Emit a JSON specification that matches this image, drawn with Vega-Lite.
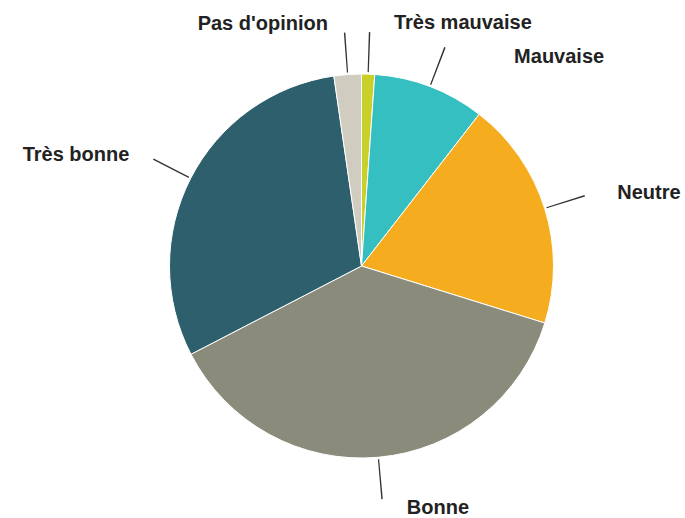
{
  "$schema": "https://vega.github.io/schema/vega-lite/v6.json",
  "width": 647,
  "height": 504,
  "autosize": {"type": "none"},
  "padding": {"left": 38, "top": 14, "right": 0, "bottom": 0},
  "background": "white",
  "view": {"stroke": null},
  "data": {
    "values": [
      {"cat": "Très mauvaise", "value": 1.1},
      {"cat": "Mauvaise", "value": 9.4},
      {"cat": "Neutre", "value": 19.3},
      {"cat": "Bonne", "value": 37.6},
      {"cat": "Très bonne", "value": 30.3},
      {"cat": "Pas d'opinion", "value": 2.3}
    ]
  },
  "transform": [
    {"calculate": "indexof([\"Très mauvaise\", \"Mauvaise\", \"Neutre\", \"Bonne\", \"Très bonne\", \"Pas d'opinion\"], datum.cat)", "as": "rank"},
    {"stack": "value", "groupby": [], "sort": [{"field": "rank", "order": "ascending"}], "as": ["s0", "s1"]},
    {"calculate": "(datum.s0 + datum.s1) / 2", "as": "mid"},
    {"calculate": "datum.mid - 0.05", "as": "lo"},
    {"calculate": "datum.mid + 0.05", "as": "hi"}
  ],
  "layer": [
    {
      "mark": {"type": "arc", "outerRadius": 192, "stroke": "#ffffff", "strokeWidth": 1},
      "encoding": {
        "theta": {"field": "s0", "type": "quantitative", "stack": null, "scale": {"domain": [0, 100]}},
        "theta2": {"field": "s1"},
        "color": {
          "field": "cat",
          "type": "nominal",
          "scale": {
            "domain": ["Très mauvaise", "Mauvaise", "Neutre", "Bonne", "Très bonne", "Pas d'opinion"],
            "range": ["#c9d02a", "#36bfc1", "#f6ac1f", "#8b8b7b", "#2e5f6d", "#d0ccc0"]
          },
          "legend": null
        }
      }
    },
    {
      "mark": {"type": "arc", "innerRadius": 194, "outerRadius": 234, "color": "#333333"},
      "encoding": {
        "theta": {"field": "lo", "type": "quantitative", "stack": null, "scale": {"domain": [0, 100]}},
        "theta2": {"field": "hi"}
      }
    },
    {
      "mark": {
        "type": "text",
        "radius": 243,
        "font": "Liberation Sans",
        "fontSize": 20,
        "fontWeight": "bold",
        "color": "#222222",
        "baseline": "middle",
        "align": {"expr": "datum.mid > 60 ? 'right' : 'left'"},
        "dx": {"expr": "datum.mid > 60 ? -16 : (datum.cat == 'Mauvaise' ? 66 : 24)"},
        "dy": {"expr": "datum.cat == 'Mauvaise' ? 18 : 0"}
      },
      "encoding": {
        "theta": {"field": "mid", "type": "quantitative", "stack": null, "scale": {"domain": [0, 100]}},
        "text": {"field": "cat", "type": "nominal"}
      }
    }
  ]
}
